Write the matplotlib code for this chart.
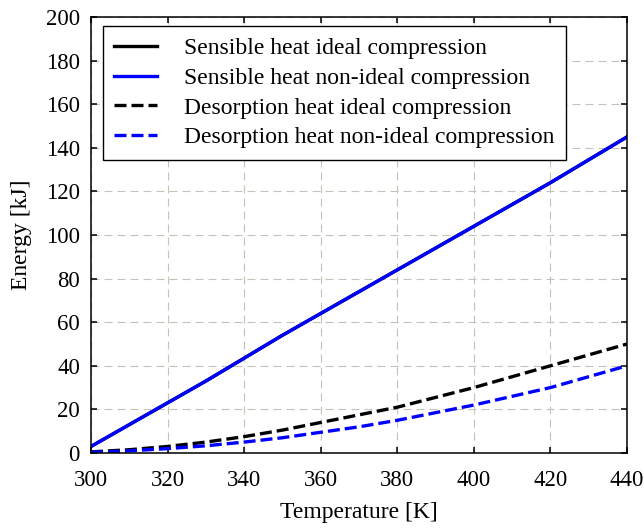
import numpy as np
import matplotlib.pyplot as plt

plt.rcParams['font.family'] = ['Liberation Serif', 'DejaVu Serif']

# values
temp = [300, 310, 320, 330, 340, 350, 360, 370, 380, 390, 400, 410, 420, 430, 440]
sens_ideal = [3, 13, 23, 33, 43.5, 54, 64, 74, 84, 94, 104, 114, 124, 134.5, 145]
sens_nonideal = [3, 13, 23, 33, 43.5, 54, 64, 74, 84, 94, 104, 114, 124, 134.5, 145]
des_ideal = [0.5, 1.5, 3, 5, 7.5, 10.5, 14, 17.5, 21, 25.5, 30, 35, 40, 45, 50]
des_nonideal = [0.3, 1, 2, 3.3, 5, 7, 9.5, 12, 15, 18.5, 22, 26, 30, 35, 40]

labels = ['Sensible heat ideal compression',
          'Sensible heat non-ideal compression',
          'Desorption heat ideal compression',
          'Desorption heat non-ideal compression']

fig = plt.figure(figsize=(6.44, 5.30), dpi=100)
ax = fig.add_axes([0.1413, 0.1453, 0.8323, 0.8226])

dash = (0, (3.6, 1.5))
ax.plot(temp, sens_ideal, color='black', lw=2.4, label=labels[0])
ax.plot(temp, sens_nonideal, color='#0000ff', lw=2.4, label=labels[1])
ax.plot(temp, des_ideal, color='black', lw=2.4, ls=dash, label=labels[2])
ax.plot(temp, des_nonideal, color='#0000ff', lw=2.4, ls=dash, label=labels[3])

ax.set_xlim(300, 440)
ax.set_ylim(0, 200)
ax.set_xticks(np.arange(300, 441, 20))
ax.set_yticks(np.arange(0, 201, 20))
ax.grid(True, color='#c4c3b8', ls=(0, (7.2, 4.5)), lw=0.8)
ax.tick_params(direction='in', top=True, right=True, length=4.5, width=1.1,
               labelsize=16.4)
ax.tick_params(axis='x', pad=12)
ax.tick_params(axis='y', pad=8)
for s in ax.spines.values():
    s.set_linewidth(1.1)

ax.set_xlabel('Temperature [K]', fontsize=17, labelpad=8)
ax.set_ylabel('Energy [kJ]', fontsize=17, labelpad=10)

leg = ax.legend(loc='upper left', bbox_to_anchor=(0.0224, 0.979),
                fontsize=17, fancybox=False, edgecolor='black', framealpha=1,
                handlelength=1.8, borderaxespad=0, borderpad=0.48,
                labelspacing=0.35, handletextpad=1.15)
leg.get_frame().set_linewidth(1.0)

fig.savefig('out.png', dpi=100)
